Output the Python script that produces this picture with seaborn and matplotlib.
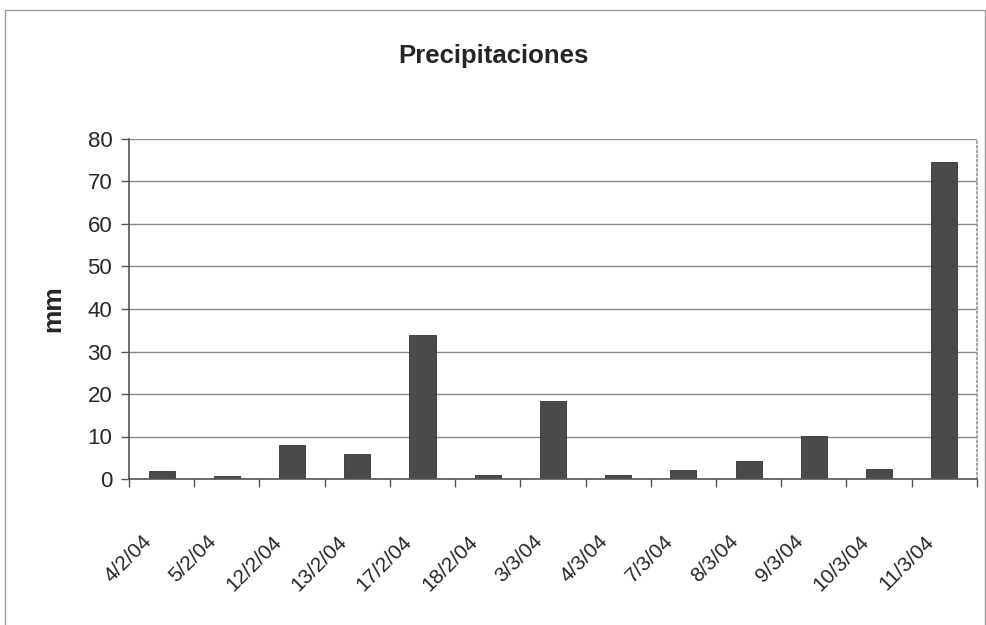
import numpy as np
import pandas as pd
import matplotlib
matplotlib.use("Agg")
import matplotlib.pyplot as plt
import matplotlib.transforms as mtransforms
import seaborn as sns
from matplotlib.patches import Rectangle

sns.set_theme(style="white")
plt.rcParams['font.family'] = ['Liberation Sans', 'DejaVu Sans']

# ===== data =====
dates = ["4/2/04", "5/2/04", "12/2/04", "13/2/04", "17/2/04", "18/2/04", "3/3/04",
         "4/3/04", "7/3/04", "8/3/04", "9/3/04", "10/3/04", "11/3/04"]
rain_mm = [1.8, 0.8, 8.0, 6.0, 34.0, 1.0, 18.3, 1.0, 2.2, 4.3, 10.2, 2.3, 74.5]

df = pd.DataFrame({"fecha": dates, "mm": rain_mm})

fig = plt.figure(figsize=(9.86, 6.25), dpi=100)
ax = fig.add_axes([0.1308, 0.2336, 0.86, 0.544])

sns.barplot(data=df, x="fecha", y="mm", color="#4a4a4a", width=0.4,
            saturation=1, edgecolor="#333333", linewidth=0.6, ax=ax)

ax.set_ylim(0, 80)
ax.set_xlim(-0.5, len(dates) - 0.5)
ax.set_yticks(np.arange(0, 81, 10))
ax.yaxis.grid(True, color="#8a8a8a", linewidth=1.0)
ax.set_axisbelow(True)

# ticks between categories, as in the original
ax.set_xticks(np.arange(-0.5, len(dates), 1.0), minor=True)
ax.tick_params(axis="x", which="major", length=0, pad=38)
ax.tick_params(axis="x", which="minor", length=6, width=1, color="#555555",
               direction="out", bottom=True)
ax.tick_params(axis="y", length=6, width=1, color="#555555", direction="out",
               left=True, labelsize=16, pad=6)
ax.set_xticks(range(len(dates)))
ax.set_xticklabels(dates, rotation=45, ha="right", rotation_mode="anchor",
                   fontsize=15)
shift = mtransforms.ScaledTranslation(-20 / 100, 0, fig.dpi_scale_trans)
for lab in ax.get_xticklabels():
    lab.set_transform(lab.get_transform() + shift)

for side in ["left", "bottom"]:
    ax.spines[side].set_color("#555555")
    ax.spines[side].set_linewidth(1.2)
ax.spines["right"].set_color("#999999")
ax.spines["right"].set_linestyle(":")
ax.spines["top"].set_visible(False)

ax.set_xlabel("")
ax.set_ylabel("mm", fontsize=19, fontweight="bold", labelpad=16)
fig.text(0.5, 0.91, "Precipitaciones", ha="center", va="center",
         fontsize=18.5, fontweight="bold")

# chart area border
fig.patches.append(Rectangle((0.005, -0.01), 0.994, 0.994, transform=fig.transFigure,
                             fill=False, edgecolor="#999999", linewidth=1.0))

fig.savefig("out.png", dpi=100)
